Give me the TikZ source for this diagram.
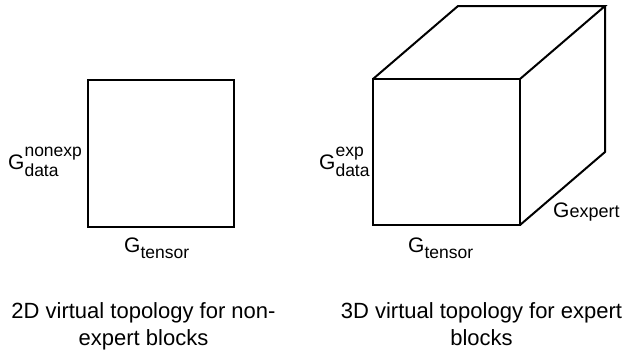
\documentclass[tikz,border=0pt]{standalone}
\usepackage{fontspec}
\setmainfont{Liberation Sans}
\usetikzlibrary{calc}
\newcommand\subsz{\fontsize{17.5}{20}\selectfont}
\begin{document}
\begin{tikzpicture}[x=1pt,y=-1pt,
  edge/.style={line width=2pt, line join=miter},
  lbl/.style={inner sep=0pt, font=\fontsize{21}{25}\selectfont},
  capt/.style={inner sep=0pt, align=center, font=\fontsize{22}{27}\selectfont}]
\useasboundingbox (0,0) rectangle (630,351);
% 2D square
\coordinate (sa) at (88,80);
\coordinate (sb) at (234,80);
\coordinate (sc) at (234,227);
\coordinate (sd) at (88,227);
\draw[edge] (sa) -- (sb) -- (sc) -- (sd) -- cycle;
% 3D cube
\coordinate (fa) at (373,79);
\coordinate (fb) at (520,79);
\coordinate (fc) at (520,225);
\coordinate (fd) at (373,225);
\coordinate (ba) at ($(fa)+(85,-73)$);
\coordinate (bb) at ($(fb)+(85,-73)$);
\coordinate (bc) at ($(fc)+(85,-73)$);
\draw[edge] (fa) -- (fb) -- (fc) -- (fd) -- cycle;
\draw[edge] (fa) -- (ba) -- (bb) -- (fb);
\draw[edge] (bb) -- (bc) -- (fc);
% labels
\node[lbl, anchor=base west] (gd1) at (8,169) {G\rlap{\raisebox{13pt}{\subsz nonexp}}\raisebox{-7pt}{\subsz data}};
\node[lbl, anchor=base west] (gt1) at (124,252) {G\raisebox{-6pt}{\subsz tensor}};
\node[lbl, anchor=base west] (gd2) at (319,169) {G\rlap{\raisebox{13pt}{\subsz exp}}\raisebox{-7pt}{\subsz data}};
\node[lbl, anchor=base west] (gt2) at (408,252) {G\raisebox{-6pt}{\subsz tensor}};
\node[lbl, anchor=base west] (ge) at (553,217) {G{\fontsize{18}{20}\selectfont expert}};
% captions
\node[capt, anchor=base] (c1) at (143.5,345) {2D virtual topology for non-\\expert blocks};
\node[capt, anchor=base] (c2) at (481.5,345) {3D virtual topology for expert\\blocks};
\end{tikzpicture}
\end{document}
